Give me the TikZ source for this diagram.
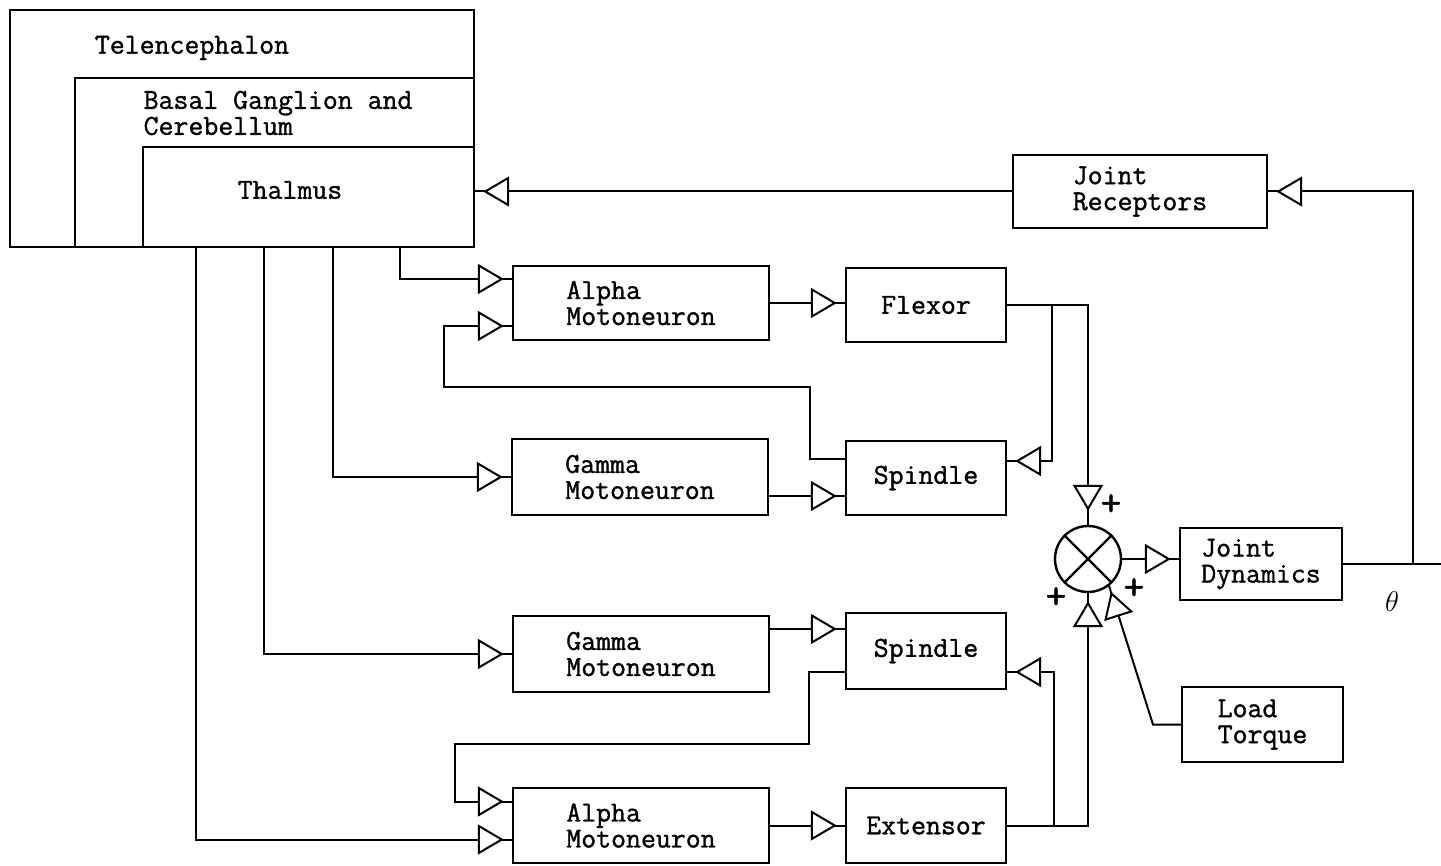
\documentclass[tikz,border=0pt]{standalone}
\usepackage{fontspec}
\setmainfont{Latin Modern Mono}[FakeBold=1.2]
\usetikzlibrary{arrows.meta}

\begin{document}
\begin{tikzpicture}[
  x=0.5pt, y=-0.5pt,
  line width=1pt,
  font=\fontsize{14.5}{13}\selectfont,
  region/.style 2 args={draw, line width=1.2pt, fill=white, inner sep=0pt,
    minimum width=#1, minimum height=#2},
  blk/.style 2 args={draw, line width=1.2pt, fill=white, align=left,
    inner sep=0pt, minimum width=#1, minimum height=#2},
  sig/.style={-{Triangle[fill=white, length=13pt, width=15pt, sep=0pt]
    Rectangle[length=#1, width=1pt, line width=0pt]}},
  sig/.default=4pt,
  pls/.style={font=\fontsize{20}{20}\selectfont\bfseries, inner sep=0pt},
]
\useasboundingbox (0,0) rectangle (1441,866);

% Brain levels
\node[region={232pt}{118.5pt}] (tel) at (242,128.5) {};
\node[region={199.5pt}{84.5pt}] (basal) at (274.5,162.5) {};
\node[region={165.5pt}{50pt}] (thal) at (308.5,197) {};
\node (telTxt) at (192,48) {Telencephalon};
\node[anchor=west, align=left] (basTxt) at (136,113) {Basal Ganglion and\\Cerebellum};
\node (thalTxt) at (290,190) {Thalmus};

% Flexor side
\node[blk={128pt}{37pt}] (alpha1) at (641,303) {Alpha\\Motoneuron};
\node[blk={80pt}{37pt}] (flexor) at (926,305) {Flexor};
\node[blk={128pt}{38pt}] (gamma1) at (640,477) {Gamma\\Motoneuron};
\node[blk={80pt}{37pt}] (spindle1) at (926,478) {Spindle};

% Extensor side
\node[blk={128pt}{38pt}] (gamma2) at (641,654) {Gamma\\Motoneuron};
\node[blk={80pt}{38pt}] (spindle2) at (926,651) {Spindle};
\node[blk={128pt}{37.5pt}] (alpha2) at (641,825.5) {Alpha\\Motoneuron};
\node[blk={80pt}{37.5pt}] (extensor) at (926,825.5) {Extensor};

% Joint
\node[blk={127pt}{36.5pt}] (jrec) at (1140,191.5) {Joint\\Receptors};
\node[blk={81pt}{36pt}] (jdyn) at (1261,564) {Joint\\Dynamics};
\node[blk={80.5pt}{37.5pt}] (load) at (1262.5,724.5) {Load\\Torque};
\node[circle, draw, line width=1.2pt, minimum size=33pt, inner sep=0pt] (sum) at (1088,559) {};
\draw[line width=1.2pt] (sum.45) -- (sum.225) (sum.135) -- (sum.-45);
\node[pls] (p1) at (1111,505) {+};
\node[pls] (p2) at (1056,598) {+};
\node[pls] (p3) at (1134,589) {+};
\node (theta) at (1392,601) {$\theta$};

% Junction points
\coordinate (tA) at (196,247);
\coordinate (tB) at (264,247);
\coordinate (tC) at (333,247);
\coordinate (tD) at (400,247);
\coordinate (fbU1) at (810,387);
\coordinate (fbU2) at (444,387);
\coordinate (fbL1) at (809,744);
\coordinate (fbL2) at (455,744);
\coordinate (flexJ) at (1052,305);
\coordinate (extJ) at (1054,825.5);
\coordinate (thJ) at (1413,564);
\coordinate (out) at (1441,564);
\coordinate (loadJ) at (1153,724.5);

% Descending paths
\draw[sig] (tD) |- ([yshift=12pt]alpha1.west);
\draw[sig] (tC) |- (gamma1.west);
\draw[sig] (tB) |- (gamma2.west);
\draw[sig] (tA) |- ([yshift=-7pt]alpha2.west);
\draw[sig] (alpha1.east) -- (alpha1.east -| flexor.west);
\draw[sig] ([yshift=-9.5pt]gamma1.east) -- ([yshift=-9.5pt]gamma1.east -| spindle1.west);
\draw[sig] ([yshift=12.5pt]gamma2.east) -- ([yshift=12.5pt]gamma2.east -| spindle2.west);
\draw[sig] (alpha2.east) -- (alpha2.east -| extensor.west);

% Spindle loops
\draw[sig] ([yshift=9.5pt]spindle1.west) -| (fbU1) -- (fbU2) |- ([yshift=-11.5pt]alpha1.west);
\draw[sig] ([yshift=-10.5pt]spindle2.west) -| (fbL1) -- (fbL2) |- ([yshift=12pt]alpha2.west);
\draw[sig] (flexJ) |- ([yshift=8.5pt]spindle1.east);
\draw[sig] (extJ) |- ([yshift=-10.5pt]spindle2.east);

% Summing and joint
\draw[sig=7pt] (flexor.east) -| (sum.north);
\draw[sig] (extensor.east) -| (sum.south);
\draw[sig=3pt] (load.west) -- (loadJ) -- (sum.-52);
\draw[sig] (sum.east) -- (sum.east -| jdyn.west);
\draw (jdyn.east) -- (out);
\draw[sig] (thJ) |- (jrec.east);
\draw[sig] (jrec.west) -- (jrec.west -| thal.east);

\end{tikzpicture}
\end{document}
